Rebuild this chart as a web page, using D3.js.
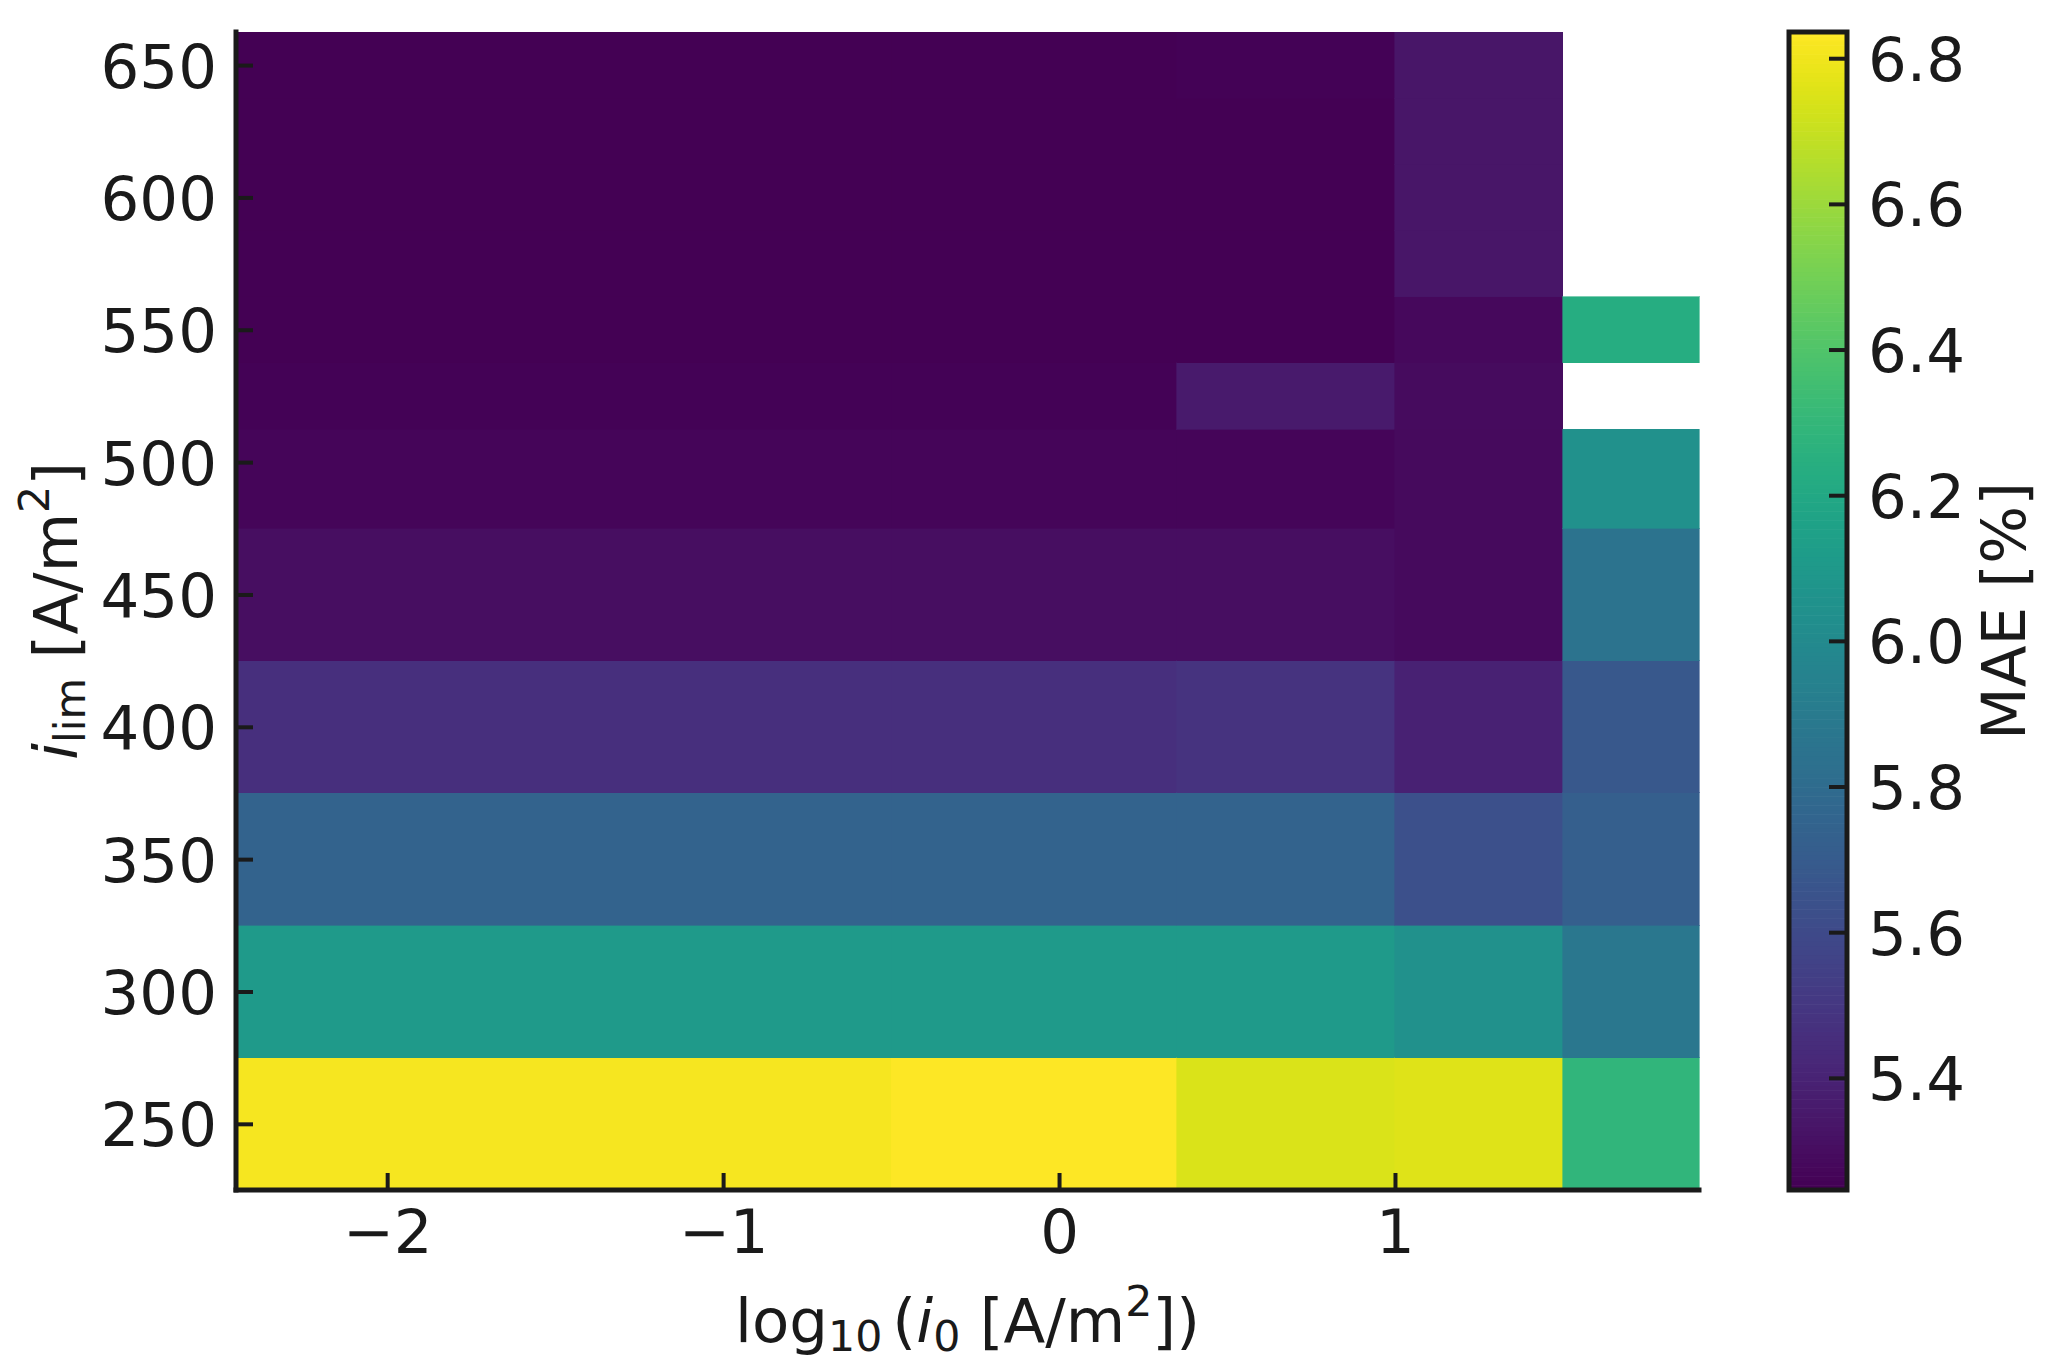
<!DOCTYPE html>
<html>
<head>
<meta charset="utf-8">
<script src="https://cdn.jsdelivr.net/npm/d3@7"></script>
<style>
  html, body { margin: 0; padding: 0; background: #ffffff; }
  svg { display: block; }
  text { font-family: "DejaVu Sans", sans-serif; fill: #1a1a1a; }
</style>
</head>
<body>
<svg id="chart" width="2056" height="1364"></svg>
<script>
// ---- data ----
// cell edges of the pcolormesh grid
const xEdges = [-2.45, -0.5, 0.35, 1.0, 1.5, 1.905];          // log10(i0)
const yEdges = [225, 275, 325, 375, 425, 475, 512.5, 537.5, 562.5, 587.5, 612.5, 637.5, 662.5]; // i_lim
// MAE [%] per column, rows listed from bottom (250) to top (650); null = no data
const maeCol0 = [6.812, 6.105, 5.747, 5.461, 5.306, 5.268, 5.254, 5.249, 5.246, 5.246, 5.246, 5.246];
const maeCol1 = [6.836, 6.105, 5.747, 5.461, 5.306, 5.268, 5.254, 5.249, 5.246, 5.246, 5.246, 5.246];
const maeCol2 = [6.749, 6.105, 5.747, 5.477, 5.306, 5.268, 5.353, 5.246, 5.246, 5.246, 5.246, 5.256];
const maeCol3 = [6.760, 6.041, 5.636, 5.395, 5.284, 5.284, 5.295, 5.278, 5.333, 5.333, 5.333, 5.333];
const maeCol4 = [6.287, 5.874, 5.723, 5.675, 5.850, 6.041, null, 6.232, null, null, null, null];
const maeColumns = [maeCol0, maeCol1, maeCol2, maeCol3, maeCol4];

const xTickValues = [-2, -1, 0, 1];
const yTickValues = [250, 300, 350, 400, 450, 500, 550, 600, 650];
const cbTickValues = [5.4, 5.6, 5.8, 6.0, 6.2, 6.4, 6.6, 6.8];
const cbMin = 5.246, cbMax = 6.836;

// ---- layout ----
const svg = d3.select("#chart");
const plot = { left: 236, right: 1699, top: 32, bottom: 1190 };
const cb = { left: 1789, right: 1847, top: 32, bottom: 1190 };
const FS = 61;
const INK = "#1a1a1a";

const x = d3.scaleLinear().domain(d3.extent(xEdges)).range([plot.left, plot.right]);
const y = d3.scaleLinear().domain(d3.extent(yEdges)).range([plot.bottom, plot.top]);
const color = d3.scaleSequential(d3.interpolateViridis).domain([cbMin, cbMax]);

// ---- heatmap cells ----
const cells = [];
maeColumns.forEach((col, i) => {
  col.forEach((v, j) => {
    if (v !== null) cells.push({ x0: xEdges[i], x1: xEdges[i + 1], y0: yEdges[j], y1: yEdges[j + 1], v });
  });
});
svg.append("g").selectAll("rect").data(cells).join("rect")
  .attr("x", d => x(d.x0))
  .attr("y", d => y(d.y1))
  .attr("width", d => x(d.x1) - x(d.x0))
  .attr("height", d => y(d.y0) - y(d.y1))
  .attr("fill", d => color(d.v))
  .attr("stroke", d => color(d.v))
  .attr("stroke-width", 0.6)
  .attr("shape-rendering", "crispEdges");

// ---- axes ----
const yAxis = d3.axisLeft(y).tickValues(yTickValues).tickSizeInner(-17).tickSizeOuter(0).tickPadding(19);
const gy = svg.append("g").attr("transform", `translate(${plot.left},0)`).call(yAxis);
const xAxis = d3.axisBottom(x).tickValues(xTickValues).tickSizeInner(-17).tickSizeOuter(0).tickPadding(20)
  .tickFormat(d => d < 0 ? "\u2212" + Math.abs(d) : String(d));
const gx = svg.append("g").attr("transform", `translate(0,${plot.bottom})`).call(xAxis);

[gx, gy].forEach(g => {
  g.select(".domain").remove();
  g.selectAll(".tick line").attr("stroke", INK).attr("stroke-width", 4);
  g.selectAll(".tick text").attr("font-size", FS).attr("fill", INK)
    .attr("font-family", "DejaVu Sans");
});
gy.selectAll(".tick text").attr("dy", "0.36em");

// spines (left and bottom only)
svg.append("line").attr("x1", plot.left).attr("x2", plot.left)
  .attr("y1", plot.top).attr("y2", plot.bottom)
  .attr("stroke", INK).attr("stroke-width", 5).attr("stroke-linecap", "square");
svg.append("line").attr("x1", plot.left).attr("x2", plot.right)
  .attr("y1", plot.bottom).attr("y2", plot.bottom)
  .attr("stroke", INK).attr("stroke-width", 5).attr("stroke-linecap", "square");

// ---- axis labels ----
const xl = svg.append("text").attr("x", (plot.left + plot.right) / 2).attr("y", 1342)
  .attr("text-anchor", "middle").attr("font-size", FS);
xl.append("tspan").text("log");
xl.append("tspan").attr("font-size", FS * 0.7).attr("dy", 9).text("10");
xl.append("tspan").attr("dy", -9).attr("dx", 10).text("(");
xl.append("tspan").attr("font-style", "italic").text("i");
xl.append("tspan").attr("font-size", FS * 0.7).attr("dy", 9).text("0");
xl.append("tspan").attr("dy", -9).text("\u00a0[A/m");
xl.append("tspan").attr("font-size", FS * 0.7).attr("dy", -26).text("2");
xl.append("tspan").attr("dy", 26).text("])");

const ylx = 77, yly = (plot.top + plot.bottom) / 2;
const yl = svg.append("text").attr("transform", `translate(${ylx},${yly}) rotate(-90)`)
  .attr("text-anchor", "middle").attr("font-size", FS);
yl.append("tspan").attr("font-style", "italic").text("i");
yl.append("tspan").attr("font-size", FS * 0.7).attr("dy", 8).text("lim");
yl.append("tspan").attr("dy", -8).text("\u00a0[A/m");
yl.append("tspan").attr("font-size", FS * 0.7).attr("dy", -28).text("2");
yl.append("tspan").attr("dy", 28).text("]");

// ---- colorbar ----
const cy = d3.scaleLinear().domain([cbMin, cbMax]).range([cb.bottom, cb.top]);
const nSteps = 256;
const steps = d3.range(nSteps).map(i => cbMin + (cbMax - cbMin) * (i + 0.5) / nSteps);
const stepH = (cb.bottom - cb.top) / nSteps;
svg.append("g").selectAll("rect").data(steps).join("rect")
  .attr("x", cb.left).attr("width", cb.right - cb.left)
  .attr("y", d => cy(d) - stepH / 2 - 0.3)
  .attr("height", stepH + 0.6)
  .attr("fill", d => color(d));
svg.append("rect").attr("x", cb.left).attr("y", cb.top)
  .attr("width", cb.right - cb.left).attr("height", cb.bottom - cb.top)
  .attr("fill", "none").attr("stroke", INK).attr("stroke-width", 5);

const cbAxis = d3.axisRight(cy).tickValues(cbTickValues).tickSizeInner(-18).tickSizeOuter(0).tickPadding(21)
  .tickFormat(d3.format(".1f"));
const gcb = svg.append("g").attr("transform", `translate(${cb.right},0)`).call(cbAxis);
gcb.select(".domain").remove();
gcb.selectAll(".tick line").attr("stroke", INK).attr("stroke-width", 4);
gcb.selectAll(".tick text").attr("font-size", FS).attr("fill", INK).attr("dy", "0.36em")
  .attr("font-family", "DejaVu Sans");

svg.append("text").attr("transform", `translate(2025,${(cb.top + cb.bottom) / 2}) rotate(-90)`)
  .attr("text-anchor", "middle").attr("font-size", FS).text("MAE [%]");
</script>
</body>
</html>
